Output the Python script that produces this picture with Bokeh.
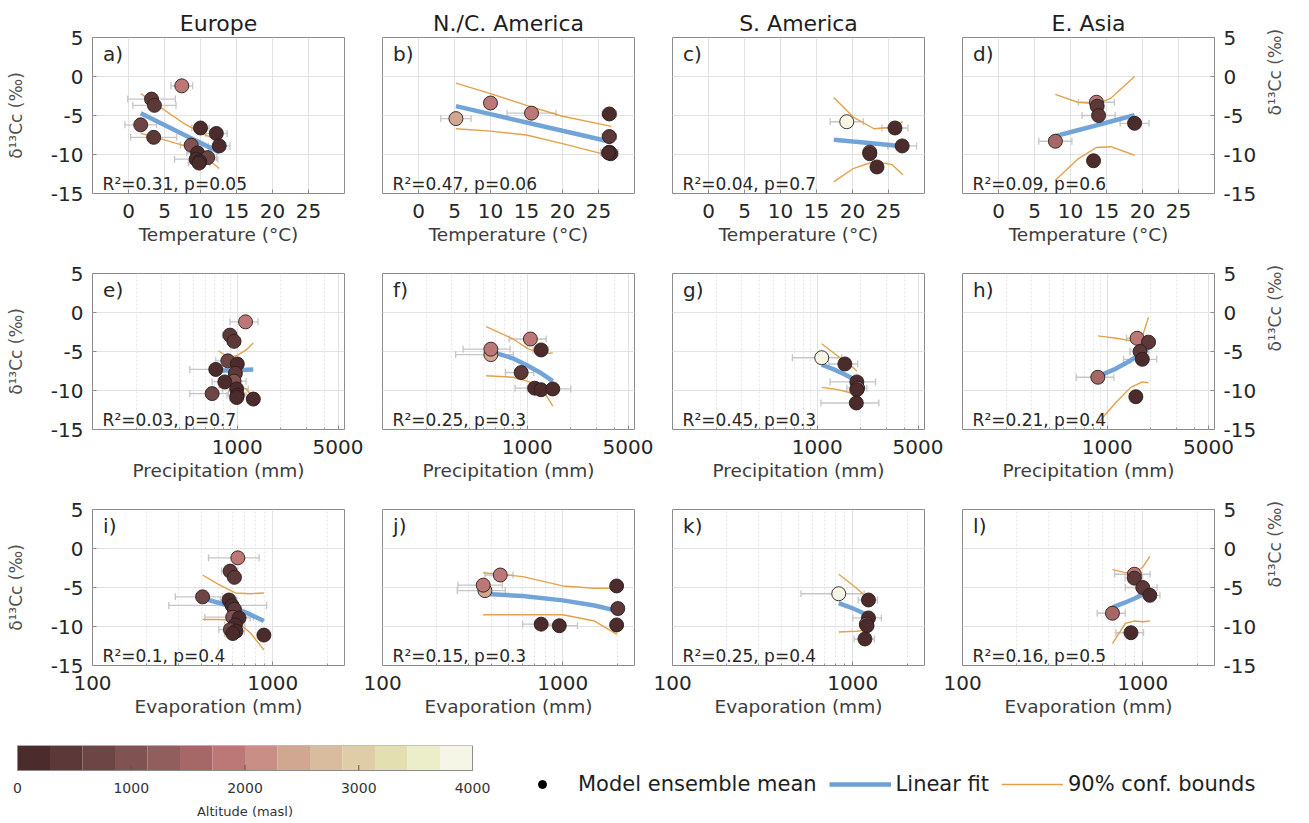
import math
import numpy as np
from bokeh.plotting import figure
from bokeh.layouts import column, row
from bokeh.models import (ColumnDataSource, Whisker, TeeHead, FixedTicker, Label,
                          LinearColorMapper, Legend, LegendItem, Grid, Range1d,
                          PrintfTickFormatter)
from bokeh.core.properties import value
from bokeh.transform import transform
from bokeh.embed import file_html
from bokeh.resources import INLINE

# ---------------- texts / ticks ----------------
REGIONS = ["Europe", "N./C. America", "S. America", "E. Asia"]
LETTERS = ["a)", "b)", "c)", "d)", "e)", "f)", "g)", "h)", "i)", "j)", "k)", "l)"]
X_LABELS = ["Temperature (°C)", "Precipitation (mm)", "Evaporation (mm)"]
Y_LABEL = "δ¹³Cc (‰)"
STATS = ["R²=0.31, p=0.05", "R²=0.47, p=0.06", "R²=0.04, p=0.7", "R²=0.09, p=0.6",
         "R²=0.03, p=0.7", "R²=0.25, p=0.3", "R²=0.45, p=0.3", "R²=0.21, p=0.4",
         "R²=0.1, p=0.4", "R²=0.15, p=0.3", "R²=0.25, p=0.4", "R²=0.16, p=0.5"]
TEMP_TICKS = [0, 5, 10, 15, 20, 25]
PRECIP_TICKS = [1000, 5000]
PRECIP_MINOR = [200, 300, 400, 500, 600, 700, 800, 900, 2000, 3000, 4000]
EVAP_TICKS = [100, 1000]
EVAP_MINOR = [200, 300, 400, 500, 600, 700, 800, 900, 2000]
D13C_TICKS = [-15, -10, -5, 0, 5]
ALT_TICKS = [0, 1000, 2000, 3000, 4000]
ALT_LABEL = "Altitude (masl)"
PALETTE = ["#4b2b2c", "#5c3838", "#6e4545", "#805252", "#925e5d", "#a66867", "#bc7876",
           "#c98e86", "#d2a792", "#d9bb9d", "#dfcda8", "#e4dfb1", "#ecedc9", "#f6f6e7"]
LEGEND_LABELS = ["Model ensemble mean", "Linear fit", "90% conf. bounds"]

# ---------------- site data ----------------
eu_d13c = [-1.2, -2.9, -3.7, -6.2, -6.6, -7.3, -7.8, -8.8, -8.9, -9.8, -10.4, -10.6, -10.9, -11.1]
eu_temp = [7.4, 3.2, 3.6, 1.7, 10.0, 12.2, 3.5, 8.7, 12.6, 9.6, 11.0, 9.4, 9.9, 9.8]
eu_temp_err = [1.5, 3.3, 3.0, 2.2, 1.2, 1.5, 3.2, 1.5, 1.5, 1.5, 1.2, 3.0, 1.5, 1.5]
eu_precip = [1140, 890, 950, 860, 1000, 710, 970, 950, 820, 990, 670, 1000, 990, 1290]
eu_precip_err = [250, 100, 100, 150, 100, 240, 100, 200, 150, 200, 200, 150, 100, 100]
eu_evap = [640, 580, 613, 408, 572, 595, 613, 600, 650, 620, 582, 625, 600, 893]
eu_evap_err = [200, 60, 50, 120, 60, 330, 50, 180, 100, 80, 80, 70, 60, 40]
eu_alt = [1800, 300, 300, 700, 250, 150, 300, 900, 100, 200, 800, 200, 100, 100]

nc_d13c = [-5.4, -3.4, -4.7, -4.8, -7.7, -9.7, -9.9, -9.8]
nc_temp = [5.2, 10.0, 15.7, 26.5, 26.5, 26.5, 26.7, 26.4]
nc_temp_err = [2.1, 0.8, 3.4, 1.0, 1.0, 1.2, 1.0, 1.0]
nc_precip = [560, 1050, 560, 1245, 907, 1124, 1245, 1500]
nc_precip_err = [240, 300, 200, 150, 200, 300, 150, 500]
nc_evap = [370, 450, 362, 1990, 2020, 759, 957, 1990]
nc_evap_err = [110, 80, 100, 50, 50, 160, 250, 50]
nc_alt = [2400, 1750, 1750, 50, 400, 150, 50, 50]

sa_d13c = [-5.8, -6.6, -8.9, -9.7, -9.9, -11.6]
sa_temp = [19.2, 25.9, 26.9, 22.4, 22.4, 23.4]
sa_temp_err = [2.3, 1.8, 2.0, 0.8, 0.8, 0.8]
sa_precip = [1073, 1550, 1875, 1900, 1875, 1860]
sa_precip_err = [400, 350, 650, 300, 200, 800]
sa_evap = [836, 1222, 1222, 1190, 1200, 1168]
sa_evap_err = [320, 150, 220, 100, 100, 150]
sa_alt = [3950, 100, 100, 1300, 200, 200]

ea_d13c = [-8.3, -3.3, -3.8, -5.0, -6.0, -10.8]
ea_temp = [7.9, 13.6, 13.7, 13.9, 18.9, 13.2]
ea_temp_err = [2.3, 2.5, 0.5, 2.3, 2.0, 0.5]
ea_precip = [860, 1607, 1926, 1684, 1745, 1575]
ea_precip_err = [250, 250, 200, 250, 450, 150]
ea_evap = [679, 898, 898, 1000, 1095, 860]
ea_evap_err = [120, 200, 100, 200, 150, 150]
ea_alt = [1500, 1750, 300, 300, 200, 200]

# ---------------- fits and 90% bounds ----------------
a_x = [1.7, 4.5, 7.5, 10.0, 12.6]
a_fit = [-4.7, -5.98, -7.36, -8.51, -9.7]
a_up = [-2.2, -4.0, -5.9, -7.2, -8.3]
a_lo = [-7.3, -8.0, -8.8, -9.8, -11.8]
b_x = [5.2, 10.0, 15.0, 20.0, 26.8]
b_fit = [-3.8, -4.83, -5.89, -6.96, -8.4]
b_up = [-0.85, -2.2, -3.7, -5.1, -6.4]
b_lo = [-6.7, -7.0, -7.5, -8.6, -10.2]
c_x = [17.4, 20.1, 23.0, 25.5, 27.0]
c_fit = [-8.1, -8.34, -8.59, -8.82, -9.0]
c_up = [-2.7, -5.2, -6.7, -6.5, -5.8]
c_lo = [-13.5, -11.8, -10.9, -11.3, -12.6]
d_x = [7.9, 11.0, 13.6, 15.6, 18.9]
d_fit = [-7.65, -6.89, -6.26, -5.77, -4.96]
d_up = [-2.3, -3.3, -3.5, -2.8, 0.0]
d_lo = [-13.3, -10.6, -9.1, -9.0, -10.1]
e_x = [740, 870, 1000, 1150, 1290]
e_fit = [-7.45, -7.42, -7.4, -7.35, -7.3]
e_up = [-4.9, -5.8, -5.5, -4.8, -3.9]
e_lo = [-9.7, -9.2, -9.3, -9.8, -10.9]
f_x = [520, 800, 1000, 1250, 1500]
f_fit = [-4.8, -5.9, -6.8, -7.8, -8.8]
f_up = [-1.8, -3.4, -4.6, -5.3, -5.2]
f_lo = [-8.1, -8.3, -8.8, -9.6, -12.0]
g_x = [1073, 1300, 1550, 1750, 1875]
g_fit = [-6.7, -7.29, -7.95, -8.47, -8.8]
g_up = [-4.0, -5.2, -6.3, -7.0, -7.5]
g_lo = [-9.6, -9.8, -10.1, -10.4, -10.9]
h_x = [860, 1150, 1450, 1750, 1926]
h_fit = [-8.2, -7.19, -6.15, -5.11, -4.5]
h_up = [-3.0, -3.3, -3.6, -3.0, -0.6]
h_lo = [-14.2, -11.5, -9.6, -8.9, -9.0]
i_x = [408, 500, 620, 750, 893]
i_fit = [-6.4, -6.95, -7.67, -8.45, -9.3]
i_up = [-3.4, -4.6, -5.7, -5.8, -5.7]
i_lo = [-9.1, -9.1, -9.2, -10.8, -13.0]
j_x = [362, 600, 1000, 1500, 2000]
j_fit = [-5.8, -6.1, -6.65, -7.3, -8.0]
j_up = [-3.1, -3.6, -4.8, -5.1, -5.1]
j_lo = [-8.5, -8.5, -8.5, -9.3, -11.0]
k_x = [836, 950, 1050, 1150, 1222]
k_fit = [-7.0, -7.47, -7.89, -8.3, -8.6]
k_up = [-3.3, -4.3, -5.1, -5.9, -6.4]
k_lo = [-10.7, -10.65, -10.6, -10.5, -10.5]
l_x = [679, 800, 900, 1000, 1095]
l_fit = [-7.55, -6.92, -6.41, -5.89, -5.4]
l_up = [-2.7, -3.1, -3.1, -2.4, -1.0]
l_lo = [-12.2, -9.6, -9.3, -9.4, -9.3]

REGION_DATA = [
    dict(d13c=eu_d13c, x=[eu_temp, eu_precip, eu_evap], err=[eu_temp_err, eu_precip_err, eu_evap_err], alt=eu_alt),
    dict(d13c=nc_d13c, x=[nc_temp, nc_precip, nc_evap], err=[nc_temp_err, nc_precip_err, nc_evap_err], alt=nc_alt),
    dict(d13c=sa_d13c, x=[sa_temp, sa_precip, sa_evap], err=[sa_temp_err, sa_precip_err, sa_evap_err], alt=sa_alt),
    dict(d13c=ea_d13c, x=[ea_temp, ea_precip, ea_evap], err=[ea_temp_err, ea_precip_err, ea_evap_err], alt=ea_alt),
]
FITS = [
    [(a_x, a_fit, a_up, a_lo), (e_x, e_fit, e_up, e_lo), (i_x, i_fit, i_up, i_lo)],
    [(b_x, b_fit, b_up, b_lo), (f_x, f_fit, f_up, f_lo), (j_x, j_fit, j_up, j_lo)],
    [(c_x, c_fit, c_up, c_lo), (g_x, g_fit, g_up, g_lo), (k_x, k_fit, k_up, k_lo)],
    [(d_x, d_fit, d_up, d_lo), (h_x, h_fit, h_up, h_lo), (l_x, l_fit, l_up, l_lo)],
]

# ---------------- style ----------------
FONT = "DejaVu Sans"
BLUE = "#6b9fd6"
ORANGE = "#e3a24a"
ERRC = "#c6c6c6"
GRIDC = "#e2e2e2"
BOXC = "#8c8c8c"
X_RANGES = [(-5, 30), (100, 5500), (100, 2500)]
FRAME_W, FRAME_H = 252, 156
LEFT = [92, 19, 19, 19]
RIGHT = [19, 19, 19, 95]
TOP = [37, 20, 20]
BOTTOM = [60, 60, 60]

mapper = LinearColorMapper(palette=PALETTE, low=0, high=4000)


def x_at(ri, f):
    lo, hi = X_RANGES[ri]
    if ri == 0:
        return lo + f * (hi - lo)
    return 10 ** (np.log10(lo) + f * (np.log10(hi) - np.log10(lo)))


def make_panel(ci, ri):
    reg = REGION_DATA[ci]
    kw = dict(width=LEFT[ci] + FRAME_W + RIGHT[ci], height=TOP[ri] + FRAME_H + BOTTOM[ri],
              output_backend="svg", toolbar_location=None,
              x_range=Range1d(*X_RANGES[ri]), y_range=Range1d(-15, 5),
              y_axis_location=["left", None, None, "right"][ci],
              min_border_left=LEFT[ci], min_border_right=RIGHT[ci],
              min_border_top=TOP[ri], min_border_bottom=BOTTOM[ri])
    if ri > 0:
        kw["x_axis_type"] = "log"
    if ri == 0:
        kw["title"] = REGIONS[ci]
    else:
        kw["title_location"] = None
    p = figure(**kw)
    p.outline_line_color = BOXC
    p.outline_line_width = 1
    p.background_fill_color = "white"
    p.border_fill_color = "white"
    if ri == 0:
        p.title.text_font = FONT
        p.title.text_font_size = "22px"
        p.title.text_font_style = "normal"
        p.title.align = "center"
        p.title.text_color = "#1e1e1e"
        p.title.standoff = 3

    xa = p.xaxis[0]
    if ri == 0:
        xa.ticker = FixedTicker(ticks=TEMP_TICKS)
        xa.minor_tick_line_color = None
    elif ri == 1:
        xa.ticker = FixedTicker(ticks=PRECIP_TICKS, minor_ticks=PRECIP_MINOR)
        xa.formatter = PrintfTickFormatter(format="%d")
    else:
        xa.ticker = FixedTicker(ticks=EVAP_TICKS, minor_ticks=EVAP_MINOR)
        xa.formatter = PrintfTickFormatter(format="%d")
    xa.axis_label = X_LABELS[ri]
    xa.axis_label_text_font = FONT
    xa.axis_label_text_font_size = "18.5px"
    xa.axis_label_text_font_style = "normal"
    xa.axis_label_text_color = "#3c3c3c"
    xa.axis_label_standoff = 3
    xa.major_label_text_font = FONT
    xa.major_label_text_font_size = "20px"
    xa.major_label_text_color = "#262626"
    xa.major_label_standoff = 10
    xa.axis_line_color = None
    xa.major_tick_in = 4
    xa.major_tick_out = 0
    xa.major_tick_line_color = BOXC
    xa.minor_tick_in = 2
    xa.minor_tick_out = 0
    if ri > 0:
        xa.minor_tick_line_color = BOXC
    p.xgrid.grid_line_color = GRIDC
    p.xgrid.grid_line_width = 1
    if ri > 0:
        p.xgrid.minor_grid_line_color = "#e4e4e4"
        p.xgrid.minor_grid_line_dash = "2 2"

    if ci in (0, 3):
        ya = p.yaxis[0]
        ya.ticker = FixedTicker(ticks=D13C_TICKS)
        ya.major_label_overrides = {t: str(t) for t in D13C_TICKS}
        ya.axis_label = Y_LABEL
        ya.axis_label_text_font = FONT
        ya.axis_label_text_font_size = "17px"
        ya.axis_label_text_font_style = "normal"
        ya.axis_label_text_color = "#505050"
        ya.axis_label_standoff = 22 if ci == 0 else 16
        if ci == 3 and "axis_label_orientation" in ya.properties():
            ya.axis_label_orientation = math.pi / 2
        ya.major_label_text_font = FONT
        ya.major_label_text_font_size = "20px"
        ya.major_label_text_color = "#262626"
        ya.major_label_standoff = 9
        ya.axis_line_color = None
        ya.major_tick_in = 4
        ya.major_tick_out = 0
        ya.major_tick_line_color = BOXC
        ya.minor_tick_line_color = None
        p.ygrid.grid_line_color = GRIDC
    else:
        p.add_layout(Grid(dimension=1, ticker=FixedTicker(ticks=D13C_TICKS),
                          grid_line_color=GRIDC))

    xs = reg["x"][ri]
    errs = reg["err"][ri]
    src = ColumnDataSource(dict(x=xs, y=reg["d13c"],
                                lo=[a - b for a, b in zip(xs, errs)],
                                hi=[a + b for a, b in zip(xs, errs)],
                                alt=reg["alt"]))
    wh = Whisker(source=src, base="y", lower="lo", upper="hi", dimension="width",
                 line_color=ERRC, line_width=1.3,
                 upper_head=TeeHead(size=7, line_color=ERRC, line_width=1.3),
                 lower_head=TeeHead(size=7, line_color=ERRC, line_width=1.3))
    p.add_layout(wh)

    fx, ffit, fup, flo = FITS[ci][ri]
    p.line(fx, fup, line_color=ORANGE, line_width=1.4)
    p.line(fx, flo, line_color=ORANGE, line_width=1.4)
    p.line(fx, ffit, line_color=BLUE, line_width=4.5, line_alpha=0.95)

    p.scatter("x", "y", source=src, size=14, fill_color=transform("alt", mapper),
              line_color="#2b1d1d", line_width=0.9)

    idx = ri * 4 + ci
    p.add_layout(Label(x=x_at(ri, 0.042), y=2.9, text=LETTERS[idx], text_font=FONT,
                       text_font_size="20px", text_baseline="middle", text_color="#262626"))
    p.add_layout(Label(x=x_at(ri, 0.04), y=-13.8, text=STATS[idx], text_font=FONT,
                       text_font_size="17px", text_baseline="middle", text_color="#262626"))
    return p


rows = []
for ri in range(3):
    rows.append(row([make_panel(ci, ri) for ci in range(4)], spacing=0))

# ---------------- colour bar (frame 500 px wide; bar spans 17..472 px) ----------------
CB_W, CB_H = 500, 98
BAR_L, BAR_R = 17, 472
px_per_m = (BAR_R - BAR_L) / 4000.0
cb = figure(width=CB_W, height=CB_H,
            x_range=Range1d(-BAR_L / px_per_m, 4000 + (CB_W - BAR_R) / px_per_m),
            y_range=Range1d(-2.04, 1),
            min_border_left=0, min_border_right=0, min_border_top=20, min_border_bottom=2,
            toolbar_location=None, output_backend="svg", title_location=None,
            x_axis_location=None, y_axis_location=None)
cb.outline_line_color = None
cb.xgrid.grid_line_color = None
cb.ygrid.grid_line_color = None
edges = np.linspace(0, 4000, len(PALETTE) + 1)
cb.quad(left=edges[:-1], right=edges[1:], bottom=0, top=1, fill_color=PALETTE, line_color=None)
cb.segment(x0=ALT_TICKS, y0=[0] * len(ALT_TICKS), x1=ALT_TICKS, y1=[0.22] * len(ALT_TICKS),
           line_color="#555555", line_width=1)
cb.quad(left=[0], right=[4000], bottom=[0], top=[1], fill_color=None, line_color=BOXC, line_width=1)
cb.text(x=ALT_TICKS, y=[-0.68] * len(ALT_TICKS), text=[str(t) for t in ALT_TICKS],
        text_font=value(FONT), text_font_size="14px", text_color="#333333",
        text_align="center", text_baseline="middle")
cb.text(x=[2000], y=[-1.64], text=[ALT_LABEL], text_font=value(FONT), text_font_size="13px",
        text_color="#333333", text_align="center", text_baseline="middle")

# ---------------- legend ----------------
# legend-only figure: the sample renderers sit outside the visible range
lg = figure(width=809, height=CB_H, x_range=Range1d(0, 1), y_range=Range1d(0, 1),
            min_border_left=0, min_border_right=0, min_border_top=20, min_border_bottom=2,
            toolbar_location=None, output_backend="svg",
            title_location=None, x_axis_location=None, y_axis_location=None)
lg.outline_line_color = None
lg.xgrid.grid_line_color = None
lg.ygrid.grid_line_color = None
r1 = lg.scatter([-5], [-5], size=11, fill_color="black", line_color="black")
r2 = lg.line([-5, -4], [-5, -5], line_color=BLUE, line_width=4.5)
r3 = lg.line([-5, -4], [-5, -5], line_color=ORANGE, line_width=1.5)
legend = Legend(items=[LegendItem(label=LEGEND_LABELS[0], renderers=[r1]),
                       LegendItem(label=LEGEND_LABELS[1], renderers=[r2]),
                       LegendItem(label=LEGEND_LABELS[2], renderers=[r3])],
                orientation="horizontal", location=(11, 25),
                glyph_width=62, glyph_height=20,
                label_standoff=5, spacing=12, padding=10, border_line_color=None,
                background_fill_alpha=0, label_text_font=FONT, label_text_font_size="21px",
                label_text_color="#1e1e1e")
lg.add_layout(legend)

layout = column(rows + [row([cb, lg], spacing=0)], spacing=0)

open("out.html", "w").write(file_html(layout, INLINE))
